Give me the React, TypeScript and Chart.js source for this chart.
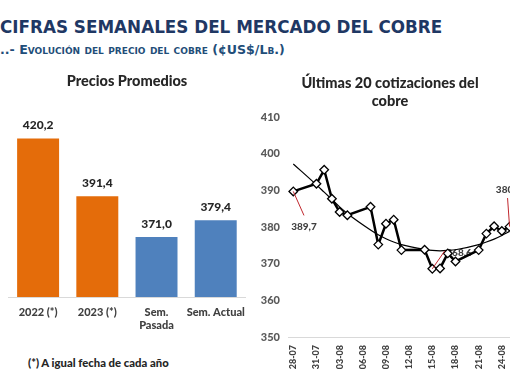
import React, { useEffect, useRef } from "react";
import { Chart, registerables } from "chart.js";

Chart.register(...registerables);

// ---------- data: left bar chart ----------
const barCategories: (string | string[])[] = ["2022 (*)", "2023 (*)", ["Sem.", "Pasada"], "Sem. Actual"];
const barValues = [420.2, 391.4, 371.0, 379.4];
const barColors = ["#E46C0A", "#E46C0A", "#4F81BD", "#4F81BD"];

// ---------- data: right line chart ----------
const quoteDates = [
  "28-07", "31-07", "01-08", "02-08", "03-08", "04-08",
  "07-08", "08-08", "09-08", "10-08", "11-08",
  "14-08", "15-08", "16-08", "17-08", "18-08",
  "21-08", "22-08", "23-08", "24-08", "25-08",
];
const quoteValues = [
  389.7, 391.8, 395.6, 387.7, 384.1, 383.2,
  385.5, 375.2, 380.9, 382.0, 373.7,
  373.8, 368.6, 368.7, 372.8, 370.6,
  373.7, 378.2, 380.2, 378.9, 380.1,
];
const trendValues = [
  397.2, 391.5, 389.5, 387.5, 385.5, 383.7,
  379.2, 377.9, 376.8, 375.9, 375.2,
  373.9, 373.6, 373.5, 373.6, 373.8,
  375.2, 375.9, 376.7, 377.7, 378.8,
];
const xTickLabels = ["28-07", "31-07", "03-08", "06-08", "09-08", "12-08", "15-08", "18-08", "21-08", "24-08"];
const yTicksMin = 350;
const yTicksMax = 410;

// ---------- helpers ----------
const YEAR = 2023;
const dayOffset = (s: string) => {
  const [d, m] = s.split("-").map(Number);
  const base = Date.UTC(YEAR, 6, 28);
  return Math.round((Date.UTC(YEAR, m - 1, d) - base) / 86400000);
};
const fmt = (v: number) => v.toFixed(1).replace(".", ",");

const FONT = "Lato, 'Open Sans', sans-serif";
const W = 900;

// callout styles (offsets in px relative to the point)
const calloutStyles = [
  { tx: 10.7, ty: 35, align: "center" as CanvasTextAlign, lx: 10.7, ly: 24 },
  { tx: 14, ty: -16.5, align: "left" as CanvasTextAlign, lx: 12.5, ly: -18 },
  { tx: -13.7, ty: -36.6, align: "left" as CanvasTextAlign, lx: -2, ly: -28.6 },
];

export default function App() {
  const barRef = useRef<HTMLCanvasElement>(null);
  const lineRef = useRef<HTMLCanvasElement>(null);

  useEffect(() => {
    document.body.style.margin = "0";

    const barLabelPlugin = {
      id: "barLabels",
      afterDatasetsDraw(chart: any) {
        const ctx = chart.ctx;
        const meta = chart.getDatasetMeta(0);
        ctx.save();
        ctx.font = `${W} 12px ${FONT}`;
        ctx.fillStyle = "#262626";
        ctx.textAlign = "center";
        ctx.textBaseline = "middle";
        meta.data.forEach((el: any, i: number) => {
          ctx.fillText(fmt(barValues[i]), el.x, el.y - 13);
        });
        ctx.restore();
      },
    };

    const c1 = new Chart(barRef.current!, {
      type: "bar",
      data: {
        labels: barCategories as any,
        datasets: [
          {
            data: barValues,
            backgroundColor: barColors,
            borderWidth: 0,
            categoryPercentage: 0.8,
            barPercentage: 0.886,
          },
        ],
      },
      options: {
        responsive: false,
        animation: false,
        layout: { padding: { left: 8.5, right: 9.5, top: 0, bottom: 0 } },
        plugins: {
          legend: { display: false },
          tooltip: { enabled: false },
          title: {
            display: true,
            text: "Precios Promedios",
            color: "#262626",
            font: { family: FONT, size: 14.5, weight: W as any, lineHeight: 1.2 },
            padding: { top: 10.3, bottom: 29.3 },
          },
        },
        scales: {
          y: { display: false, min: 341, max: 430 },
          x: {
            grid: { display: false, drawTicks: false },
            border: { display: true, color: "#D9D9D9", width: 1 },
            ticks: {
              color: "#404040",
              font: { family: FONT, size: 11, weight: W as any },
              padding: 9,
              maxRotation: 0,
              autoSkip: false,
            },
            afterFit: (s: any) => {
              s.height = 40;
            },
          },
        },
      },
      plugins: [barLabelPlugin],
    });

    const pts = quoteDates.map((d, i) => ({ x: dayOffset(d), y: quoteValues[i] }));
    const trendPts = quoteDates.map((d, i) => ({ x: dayOffset(d), y: trendValues[i] }));
    const tickPositions = xTickLabels.map(dayOffset);

    let minIdx = 0;
    quoteValues.forEach((v, i) => {
      if (v < quoteValues[minIdx]) minIdx = i;
    });
    const calloutIdx = [0, minIdx, quoteValues.length - 1];

    const calloutPlugin = {
      id: "callouts",
      beforeDatasetsDraw(chart: any) {
        const ctx = chart.ctx;
        const meta = chart.getDatasetMeta(0);
        ctx.save();
        ctx.font = `${W} 10px ${FONT}`;
        ctx.fillStyle = "#404040";
        ctx.textBaseline = "middle";
        calloutIdx.forEach((idx, k) => {
          const el = meta.data[idx];
          const st = calloutStyles[k];
          ctx.textAlign = st.align;
          ctx.fillText(fmt(quoteValues[idx]), el.x + st.tx, el.y + st.ty);
        });
        ctx.restore();
      },
      afterDatasetsDraw(chart: any) {
        const ctx = chart.ctx;
        const meta = chart.getDatasetMeta(0);
        ctx.save();
        ctx.strokeStyle = "#C0272D";
        ctx.lineWidth = 1;
        calloutIdx.forEach((idx, k) => {
          const el = meta.data[idx];
          const st = calloutStyles[k];
          ctx.beginPath();
          ctx.moveTo(el.x, el.y);
          ctx.lineTo(el.x + st.lx, el.y + st.ly);
          ctx.stroke();
        });
        ctx.restore();
      },
    };

    const c2 = new Chart(lineRef.current!, {
      type: "line",
      data: {
        datasets: [
          {
            data: pts,
            borderColor: "#000000",
            borderWidth: 2.5,
            tension: 0,
            pointStyle: "rectRot",
            pointRadius: 4.3,
            pointBackgroundColor: "#FFFFFF",
            pointBorderColor: "#000000",
            pointBorderWidth: 1.3,
            clip: false as any,
          },
          {
            data: trendPts,
            borderColor: "#000000",
            borderWidth: 1.2,
            pointRadius: 0,
            cubicInterpolationMode: "monotone",
          },
        ],
      },
      options: {
        responsive: false,
        animation: false,
        layout: { padding: { left: 0, right: 15, top: 0, bottom: 5 } },
        plugins: {
          legend: { display: false },
          tooltip: { enabled: false },
          title: {
            display: true,
            text: ["Últimas 20 cotizaciones del", "cobre"],
            color: "#262626",
            font: { family: FONT, size: 14.5, weight: W as any, lineHeight: 18 / 14.5 },
            padding: { top: 12, bottom: 7 },
          },
        },
        scales: {
          x: {
            type: "linear",
            min: -0.685,
            max: 30.0,
            grid: { display: false, drawTicks: false },
            border: { display: true, color: "#D9D9D9", width: 1 },
            afterBuildTicks: (s: any) => {
              s.ticks = tickPositions.map((v) => ({ value: v }));
            },
            ticks: {
              autoSkip: false,
              minRotation: 90,
              maxRotation: 90,
              padding: 8,
              color: "#404040",
              font: { family: FONT, size: 9, weight: W as any },
              callback: (_v: any, i: number) => xTickLabels[i],
            },
            afterFit: (s: any) => {
              s.height = 40;
            },
          },
          y: {
            min: yTicksMin,
            max: yTicksMax,
            grid: { display: false, drawTicks: false },
            border: { display: false },
            ticks: {
              stepSize: 10,
              padding: 8,
              color: "#595959",
              font: { family: FONT, size: 11, weight: W as any },
            },
            afterFit: (s: any) => {
              s.width = 33;
            },
          },
        },
      },
      plugins: [calloutPlugin],
    });

    return () => {
      c1.destroy();
      c2.destroy();
    };
  }, []);

  return (
    <div
      style={{
        position: "fixed",
        left: 0,
        top: 0,
        width: 510,
        height: 382,
        overflow: "hidden",
        background: "#FFFFFF",
      }}
    >
      <div
        style={{
          position: "absolute",
          left: 0,
          top: 17,
          whiteSpace: "nowrap",
          font: "bold 16.8px 'DejaVu Sans', sans-serif",
          lineHeight: "20px",
          color: "#1F3864",
        }}
      >
        CIFRAS SEMANALES DEL MERCADO DEL COBRE
      </div>
      <div
        style={{
          position: "absolute",
          left: 0,
          top: 41,
          whiteSpace: "nowrap",
          font: "bold 12.6px 'DejaVu Sans', sans-serif",
          fontVariant: "small-caps",
          lineHeight: "18px",
          color: "#1F4E79",
        }}
      >
        ..- Evolución del precio del cobre (¢US$/Lb.)
      </div>
      <div style={{ position: "absolute", left: 0, top: 62 }}>
        <canvas ref={barRef} width={255} height={275} style={{ display: "block" }} />
      </div>
      <div style={{ position: "absolute", left: 255, top: 62 }}>
        <canvas ref={lineRef} width={285} height={320} style={{ display: "block" }} />
      </div>
      <div
        style={{
          position: "absolute",
          left: 28,
          top: 355,
          whiteSpace: "nowrap",
          font: `${W} 11.3px ${FONT}`,
          lineHeight: "16px",
          color: "#262626",
        }}
      >
        (*) A igual fecha de cada año
      </div>
    </div>
  );
}
